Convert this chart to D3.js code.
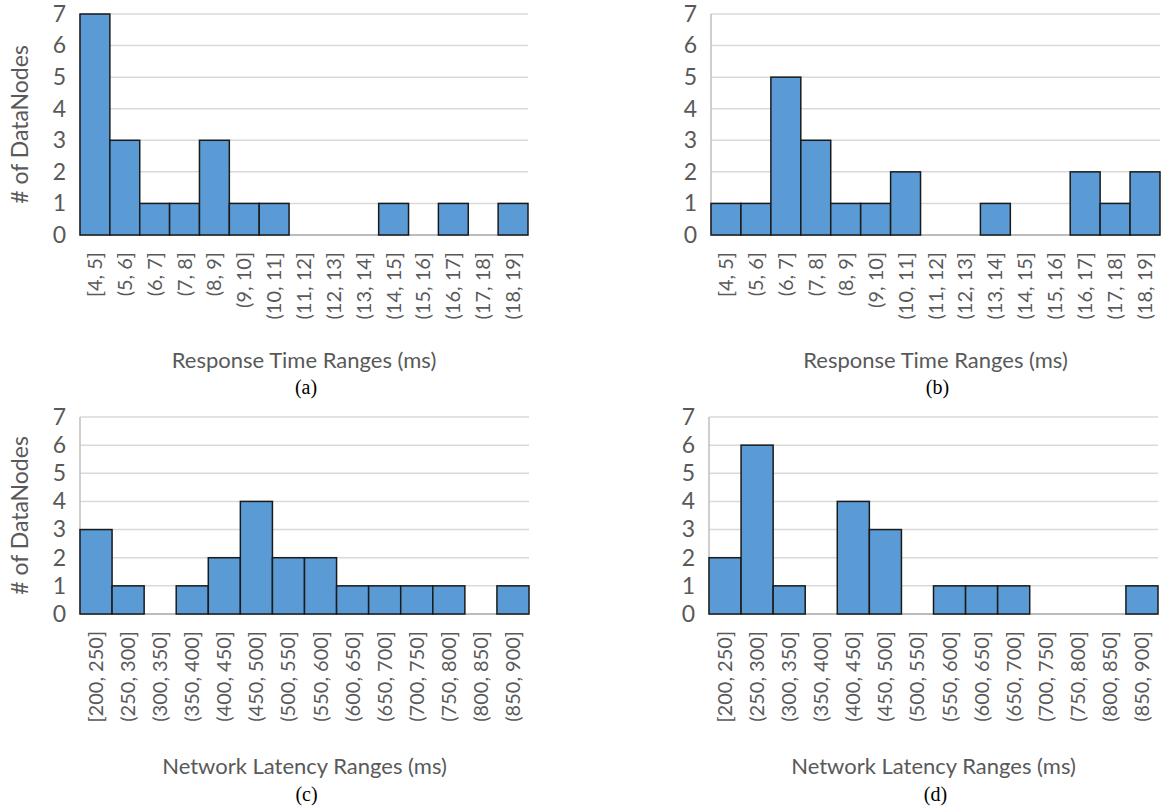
<!DOCTYPE html>
<html><head><meta charset="utf-8">
<script src="https://cdn.jsdelivr.net/npm/d3@7"></script>
<style>body{margin:0;background:#fff}</style>
</head><body><svg id="chart" width="1164" height="808"></svg>
<script>
const responseRanges = ["[4, 5]","(5, 6]","(6, 7]","(7, 8]","(8, 9]","(9, 10]","(10, 11]","(11, 12]","(12, 13]","(13, 14]","(14, 15]","(15, 16]","(16, 17]","(17, 18]","(18, 19]"];
const responseCountsA = [7,3,1,1,3,1,1,0,0,0,1,0,1,0,1];
const responseCountsB = [1,1,5,3,1,1,2,0,0,1,0,0,2,1,2];
const latencyRanges = ["[200, 250]","(250, 300]","(300, 350]","(350, 400]","(400, 450]","(450, 500]","(500, 550]","(550, 600]","(600, 650]","(650, 700]","(700, 750]","(750, 800]","(800, 850]","(850, 900]"];
const latencyCountsC = [3,1,0,1,2,4,2,2,1,1,1,1,0,1];
const latencyCountsD = [2,6,1,0,4,3,0,1,1,1,0,0,0,1];
const yTicks = [0,1,2,3,4,5,6,7];
const yTitle = "# of DataNodes";
const xTitleResp = "Response Time Ranges (ms)";
const xTitleLat = "Network Latency Ranges (ms)";

const svg = d3.select("#chart");
const FONT = "Lato, 'Open Sans', sans-serif";
const GRAY = "#595959";

const panels = [
  {x0:80, x1:528, yTop:14, yBot:235, cats:responseRanges, counts:responseCountsA, showY:true, xTitle:xTitleResp, cap:"(a)", titleY:368, capY:394},
  {x0:711, x1:1160, yTop:14, yBot:235, cats:responseRanges, counts:responseCountsB, showY:false, xTitle:xTitleResp, cap:"(b)", titleY:368, capY:394},
  {x0:80, x1:529, yTop:417, yBot:614, cats:latencyRanges, counts:latencyCountsC, showY:true, xTitle:xTitleLat, cap:"(c)", titleY:774, capY:801},
  {x0:709, x1:1158, yTop:417, yBot:614, cats:latencyRanges, counts:latencyCountsD, showY:false, xTitle:xTitleLat, cap:"(d)", titleY:774, capY:801}
];

panels.forEach(p => {
  const g = svg.append("g");
  const x = d3.scaleBand().domain(p.cats).range([p.x0, p.x1]).padding(0);
  const y = d3.scaleLinear().domain([0,7]).range([p.yBot, p.yTop]);

  // gridlines
  g.append("g").selectAll("line").data(yTicks.filter(t=>t>0)).join("line")
    .attr("x1", p.x0).attr("x2", p.x1)
    .attr("y1", d=>y(d)).attr("y2", d=>y(d))
    .attr("stroke", "#d9d9d9").attr("stroke-width", 1.5);

  // axis lines
  g.append("line").attr("x1", p.x0).attr("x2", p.x0).attr("y1", y(7)).attr("y2", y(0))
    .attr("stroke", "#bfbfbf").attr("stroke-width", 1.5);
  g.append("line").attr("x1", p.x0).attr("x2", p.x1).attr("y1", y(0)).attr("y2", y(0))
    .attr("stroke", "#a6a6a6").attr("stroke-width", 1.5);

  // bars
  const data = p.cats.map((c,i)=>({c, v:p.counts[i]}));
  g.append("g").selectAll("rect").data(data.filter(d=>d.v>0)).join("rect")
    .attr("x", d=>x(d.c)).attr("width", x.bandwidth())
    .attr("y", d=>y(d.v)).attr("height", d=>y(0)-y(d.v))
    .attr("fill", "#5b9bd5").attr("stroke", "#1a1a1a").attr("stroke-width", 1.5);

  // y axis ticks
  const ya = g.append("g").attr("transform", `translate(${p.x0-14},0)`)
    .call(d3.axisLeft(y).tickValues(yTicks).tickSize(0).tickPadding(0).tickFormat(d3.format("d")));
  ya.select(".domain").remove();
  ya.selectAll("text").attr("fill", GRAY).style("font-family", FONT).style("font-size", "23px");

  // x axis labels
  const xa = g.append("g").attr("transform", `translate(0,${p.yBot})`)
    .call(d3.axisBottom(x).tickSize(0));
  xa.select(".domain").remove();
  xa.selectAll("text")
    .attr("transform", "rotate(-90)")
    .attr("x", -17).attr("y", 0).attr("dy", "0.35em")
    .attr("text-anchor", "end")
    .attr("fill", GRAY).style("font-family", FONT).style("font-size", "20px");

  // x title
  g.append("text").attr("x", (p.x0+p.x1)/2).attr("y", p.titleY)
    .attr("text-anchor", "middle").attr("fill", GRAY)
    .style("font-family", FONT).style("font-size", "22px").text(p.xTitle);

  // caption
  g.append("text").attr("x", (p.x0+p.x1)/2 + 2).attr("y", p.capY)
    .attr("text-anchor", "middle").attr("fill", "#000")
    .style("font-family", "'Liberation Serif', 'Times New Roman', serif").style("font-size", "20px").text(p.cap);

  if (p.showY) {
    g.append("text")
      .attr("transform", `translate(28,${(p.yTop+p.yBot)/2}) rotate(-90)`)
      .attr("text-anchor", "middle").attr("fill", GRAY)
      .style("font-family", FONT).style("font-size", "23px").text(yTitle);
  }
});
</script></body></html>
